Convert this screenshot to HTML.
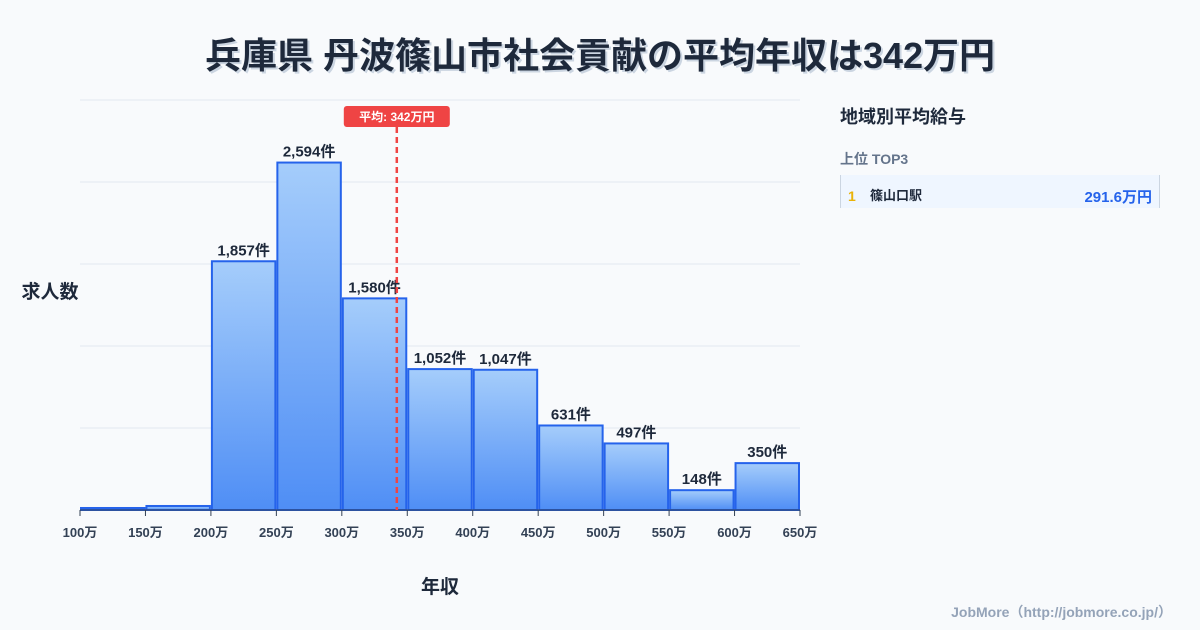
<!DOCTYPE html>
<html><head><meta charset="utf-8"><style>
body{margin:0;width:1200px;height:630px;background:#f8fafc;font-family:"Liberation Sans","Noto Sans CJK JP",sans-serif;overflow:hidden;position:relative}
.t{position:absolute;left:0;width:1200px;top:27px;text-align:center;font-size:36px;font-weight:700;color:#1e293b;text-shadow:2px 2px 0 #cbd5e1}
</style></head><body>
<div class="t">兵庫県 丹波篠山市社会貢献の平均年収は342万円</div>
<svg width="1200" height="630" style="position:absolute;left:0;top:0">
<defs><linearGradient id="g" x1="0" y1="0" x2="0" y2="1"><stop offset="0" stop-color="#a5cdfb"/><stop offset="1" stop-color="#4f8ef5"/></linearGradient></defs>
<g id="grid"></g><g id="bars"></g><g id="ax"></g>
<text x="50" y="298" text-anchor="middle" font-size="19" font-weight="700" fill="#1e293b">求人数</text>
<text x="440" y="593" text-anchor="middle" font-size="19" font-weight="700" fill="#1e293b">年収</text>
<g id="mean"></g>
<text x="840" y="123" font-size="18" font-weight="700" fill="#1e293b">地域別平均給与</text>
<text x="840" y="164" font-size="14" font-weight="700" fill="#64748b">上位 TOP3</text>
<g><rect x="840" y="175" width="320" height="33" fill="#eff6ff"/><rect x="840" y="175" width="1" height="33" fill="#cbd5e1"/><rect x="1159" y="175" width="1" height="33" fill="#cbd5e1"/>
<text x="848" y="201" font-size="14" font-weight="700" fill="#eab308">1</text>
<text x="870" y="200" font-size="13" font-weight="700" fill="#1e293b">篠山口駅</text>
<text x="1152" y="202" text-anchor="end" font-size="15" font-weight="700" fill="#2563eb">291.6万円</text></g>
<text x="1172" y="617" text-anchor="end" font-size="14" font-weight="700" fill="#94a3b8">JobMore（http://jobmore.co.jp/）</text>
</svg>
<script>
const binStarts=[100,150,200,250,300,350,400,450,500,550,600];
const counts=[15,30,1857,2594,1580,1052,1047,631,497,148,350];
const showLabel=[false,false,true,true,true,true,true,true,true,true,true];
const xTicks=[100,150,200,250,300,350,400,450,500,550,600,650];
const meanValue=342;
const NS="http://www.w3.org/2000/svg";
const x=v=>80+(v-100)*720/550, yMax=3061, y=v=>510-v*410/yMax;
function mk(p,tag,a){const e=document.createElementNS(NS,tag);for(const k in a)e.setAttribute(k,a[k]);document.getElementById(p).appendChild(e);return e;}
for(let i=0;i<=5;i++){const l=mk('grid','line',{x1:80,x2:800,y1:510-i*82,y2:510-i*82,stroke:'#e2e8f0'});

}
binStarts.forEach((b,i)=>{const x0=x(b)+1,x1=x(b+50)-1,yt=y(counts[i]);
const r=mk('bars','rect',{x:x0,y:yt,width:x1-x0,height:510-yt,fill:'url(#g)',stroke:'#2563eb','stroke-width':2});


if(showLabel[i]){const t=mk('bars','text',{x:(x0+x1)/2,y:yt-6,'text-anchor':'middle','font-size':15,'font-weight':700,fill:'#1e293b'});t.textContent=counts[i].toLocaleString('en-US')+'件';

}});
mk('ax','line',{x1:80,x2:800,y1:510,y2:510,stroke:'#334155'});
xTicks.forEach(v=>{mk('ax','line',{x1:x(v),x2:x(v),y1:510,y2:516,stroke:'#334155'});
const t=mk('ax','text',{x:x(v),y:537,'text-anchor':'middle','font-size':13,'font-weight':700,fill:'#334155'});t.textContent=v+'万';

});
const mx=x(meanValue);
const ml=mk('mean','line',{x1:mx,x2:mx,y1:127,y2:510,stroke:'#ef4444','stroke-width':2.5,'stroke-dasharray':'6,4'});


mk('mean','rect',{x:mx-53,y:106,width:106,height:21,rx:3,fill:'#ef4444'});
const mt=mk('mean','text',{x:mx,y:121,'text-anchor':'middle','font-size':12,'font-weight':700,fill:'#fff'});mt.textContent='平均: '+meanValue+'万円';


</script>
</body></html>
